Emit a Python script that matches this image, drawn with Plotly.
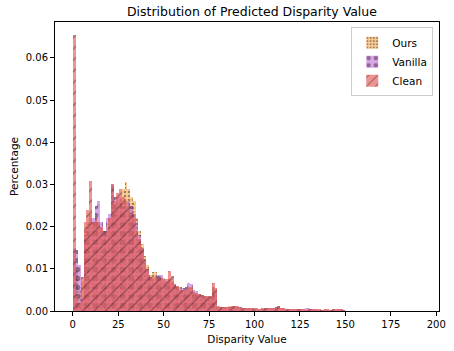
import numpy as np
import plotly.graph_objects as go

BIN_WIDTH = 1.5

clean = [0.0655, 0.004, 0.002, 0.008, 0.021, 0.024, 0.0307, 0.021, 0.022, 0.021,
         0.020, 0.018, 0.019, 0.022, 0.030, 0.026, 0.028, 0.029, 0.027, 0.026,
         0.025, 0.023, 0.022, 0.019, 0.017, 0.015, 0.012, 0.010, 0.008, 0.008,
         0.0078, 0.0075, 0.0078, 0.0072, 0.0075, 0.0096, 0.0082, 0.0063, 0.006, 0.005,
         0.005, 0.005, 0.0057, 0.0056, 0.0044, 0.0042, 0.004, 0.0039, 0.0036, 0.0035,
         0.0036, 0.0066, 0.0054, 0.0012,
         0.0009, 0.0009, 0.0010, 0.0010, 0.0011, 0.0012, 0.0011, 0.0009, 0.0008, 0.0007,
         0.0006, 0.0006, 0.0005, 0.0006, 0.0005, 0.0005, 0.0006, 0.0007, 0.0008, 0.0008,
         0.0009, 0.0012, 0.0008, 0.0006, 0.0005, 0.0005, 0.0004, 0.0004, 0.0005, 0.0004,
         0.0004, 0.0003, 0.0004, 0.0004, 0.0005, 0.0004, 0.0004, 0.0003, 0.0004, 0.0004,
         0.0003, 0.0004, 0.0004, 0.0005, 0.0004, 0.0003, 0.0001]

vanilla = [0.015, 0.0145, 0.011, 0.003, 0.018, 0.020, 0.022, 0.022, 0.025, 0.026,
           0.021, 0.019, 0.022, 0.023, 0.030, 0.027, 0.027, 0.026, 0.025, 0.026,
           0.026, 0.025, 0.023, 0.021, 0.018, 0.015, 0.012, 0.010, 0.008, 0.007,
           0.0085, 0.0085, 0.0085, 0.0075, 0.007, 0.007, 0.0068, 0.0062, 0.0058, 0.0052,
           0.0055, 0.0058, 0.0066, 0.0064, 0.005, 0.0048, 0.004, 0.0038, 0.0035, 0.0034,
           0.0033, 0.0052, 0.0048, 0.0010,
           0.0008, 0.0009, 0.0009, 0.0010, 0.0010, 0.0011, 0.0010, 0.0008, 0.0008, 0.0007,
           0.0008, 0.0006, 0.0005, 0.0005, 0.0005, 0.0006, 0.0006, 0.0007, 0.0007, 0.0008,
           0.0009, 0.0010, 0.0007, 0.0006, 0.0005, 0.0004, 0.0004, 0.0005, 0.0004, 0.0004,
           0.0004, 0.0006, 0.0006, 0.0004, 0.0004, 0.0004, 0.0003, 0.0003, 0.0004, 0.0003,
           0.0003, 0.0004, 0.0003, 0.0004, 0.0004, 0.0003, 0.0001]

ours = [0.014, 0.010, 0.005, 0.007, 0.019, 0.021, 0.023, 0.021, 0.022, 0.021,
        0.020, 0.019, 0.020, 0.022, 0.026, 0.025, 0.026, 0.027, 0.029, 0.0305,
        0.029, 0.027, 0.026, 0.022, 0.019, 0.016, 0.013, 0.011, 0.0085, 0.0093,
        0.0093, 0.008, 0.0075, 0.0078, 0.0072, 0.0075, 0.007, 0.0065, 0.006, 0.0056,
        0.005, 0.005, 0.0055, 0.0054, 0.0045, 0.0042, 0.0041, 0.0038, 0.0034, 0.0035,
        0.0034, 0.0058, 0.005, 0.0010,
        0.0009, 0.0010, 0.0010, 0.0011, 0.0011, 0.0011, 0.0010, 0.0009, 0.0008, 0.0007,
        0.0006, 0.0006, 0.0006, 0.0005, 0.0005, 0.0006, 0.0006, 0.0007, 0.0007, 0.0008,
        0.0009, 0.0011, 0.0008, 0.0006, 0.0005, 0.0005, 0.0004, 0.0004, 0.0004, 0.0004,
        0.0004, 0.0003, 0.0004, 0.0004, 0.0004, 0.0004, 0.0003, 0.0003, 0.0004, 0.0004,
        0.0003, 0.0003, 0.0004, 0.0004, 0.0004, 0.0003, 0.0001]

x_ticks = [0, 25, 50, 75, 100, 125, 150, 175, 200]
y_ticks = [0.00, 0.01, 0.02, 0.03, 0.04, 0.05, 0.06]

series = [
    ("Ours", ours, "rgba(253,185,100,0.7)", ".", 4, 0.35),
    ("Vanilla", vanilla, "rgba(185,95,210,0.55)", ".", 9, 0.3),
    ("Clean", clean, "rgba(232,100,100,0.7)", "/", 8, 0.16),
]

fig = go.Figure()
for name, vals, color, shape, size, sol in series:
    centers = (np.arange(len(vals)) + 0.5) * BIN_WIDTH
    fig.add_trace(go.Bar(
        x=centers, y=vals, width=BIN_WIDTH, name=name,
        marker=dict(color=color, line=dict(width=0),
                    pattern=dict(shape=shape, size=size, solidity=sol,
                                 fgcolor="rgba(40,20,30,0.85)", fillmode="overlay")),
    ))

axis_common = dict(showline=True, linecolor="black", linewidth=1, mirror=True,
                   ticks="outside", ticklen=4, tickcolor="black", showgrid=False,
                   zeroline=False, tickfont=dict(size=10, color="black"))

fig.update_layout(
    width=454, height=351,
    margin=dict(l=55, r=8, t=22, b=38),
    paper_bgcolor="white", plot_bgcolor="white",
    font=dict(family="DejaVu Sans", size=10, color="black"),
    barmode="overlay", bargap=0,
    title=dict(text="Distribution of Predicted Disparity Value", x=0.555, xanchor="center",
               y=0.968, yanchor="middle", font=dict(size=12.5)),
    legend=dict(x=0.985, y=0.982, xanchor="right", yanchor="top",
                bordercolor="#cccccc", borderwidth=1, bgcolor="rgba(255,255,255,0.85)",
                font=dict(size=10.5), tracegroupgap=0, itemwidth=30),
)
fig.update_xaxes(range=[-9.8, 201.5], tickvals=x_ticks, ticktext=[str(t) for t in x_ticks],
                 title=dict(text="Disparity Value", font=dict(size=10.5), standoff=6), **axis_common)
fig.update_yaxes(range=[0, 0.0685], tickvals=y_ticks, ticktext=[f"{t:.2f}" for t in y_ticks],
                 title=dict(text="Percentage", font=dict(size=10.5), standoff=5), **axis_common)

fig.write_html("out.html")
